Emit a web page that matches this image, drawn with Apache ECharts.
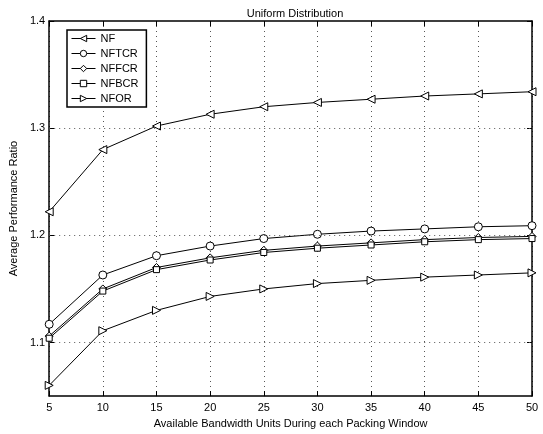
<!DOCTYPE html>
<html>
<head>
<meta charset="utf-8">
<script src="https://cdn.jsdelivr.net/npm/echarts@6/dist/echarts.min.js"></script>
<style>
html, body { margin: 0; padding: 0; background: #fff; }
#chart { width: 543px; height: 434px; }
</style>
</head>
<body>
<div id="chart"></div>
<script>
// 横坐标：每个打包窗口可用带宽单位
var bandwidth = [5, 10, 15, 20, 25, 30, 35, 40, 45, 50];
// 各算法的平均性能比
var nf = [1.222, 1.280, 1.302, 1.313, 1.320, 1.324, 1.327, 1.330, 1.332, 1.334];
var nftcr = [1.117, 1.163, 1.181, 1.190, 1.197, 1.201, 1.204, 1.206, 1.208, 1.209];
var nffcr = [1.106, 1.150, 1.170, 1.179, 1.186, 1.190, 1.193, 1.196, 1.198, 1.199];
var nfbcr = [1.104, 1.148, 1.168, 1.177, 1.184, 1.188, 1.191, 1.194, 1.196, 1.197];
var nfor = [1.060, 1.111, 1.130, 1.143, 1.150, 1.155, 1.158, 1.161, 1.163, 1.165];

var font = 'Liberation Sans, Arial, sans-serif';

function pairs(ys) {
	var out = [];
	for (var i = 0; i < bandwidth.length; i++) {
		out.push([bandwidth[i], ys[i]]);
	}
	return out;
}

function line(name, ys, symbol, size, rotate) {
	return {
		name: name,
		type: 'line',
		data: pairs(ys),
		symbol: symbol,
		symbolSize: size,
		symbolRotate: rotate || 0,
		showAllSymbol: true,
		lineStyle: { color: '#000', width: 1 },
		itemStyle: { color: '#fff', borderColor: '#000', borderWidth: 1 },
		animation: false
	};
}

var chart = echarts.init(document.getElementById('chart'));
var axisCommon = {
	axisLine: { show: true, onZero: false, lineStyle: { color: '#000', width: 1.5 } },
	axisTick: { show: true, inside: true, length: 5, lineStyle: { color: '#000' } }
};
chart.setOption({
	backgroundColor: '#fff',
	title: {
		text: 'Uniform Distribution',
		left: 290,
		top: 3,
		textAlign: 'center',
		textStyle: { fontFamily: font, fontSize: 11, fontWeight: 'normal', color: '#000' }
	},
	legend: {
		orient: 'vertical',
		left: 67,
		top: 30,
		itemWidth: 24,
		itemHeight: 8,
		itemGap: 4,
		padding: [3, 8, 3, 4],
		borderColor: '#000',
		borderWidth: 1.5,
		backgroundColor: '#fff',
		lineStyle: { width: 1, color: '#000' },
		itemStyle: { color: '#fff', borderColor: '#000', borderWidth: 1 },
		textStyle: { fontFamily: font, fontSize: 11, color: '#000' },
		data: ['NF', 'NFTCR', 'NFFCR', 'NFBCR', 'NFOR']
	},
	grid: { left: 49, right: 11, top: 21, bottom: 34 },
	xAxis: [Object.assign({
		type: 'value',
		min: 5,
		max: 50,
		interval: 5,
		name: 'Available Bandwidth Units During each Packing Window',
		nameLocation: 'middle',
		nameGap: 17,
		nameTextStyle: { fontFamily: font, fontSize: 11, color: '#000' },
		axisLabel: { fontFamily: font, fontSize: 11, color: '#000', margin: 6 },
		splitLine: { show: true, lineStyle: { color: '#555', type: [1, 4], width: 1 } }
	}, axisCommon), Object.assign({
		type: 'value',
		position: 'top',
		min: 5,
		max: 50,
		interval: 5,
		axisLabel: { show: false },
		splitLine: { show: false }
	}, axisCommon)],
	yAxis: [Object.assign({
		type: 'value',
		min: 1.05,
		max: 1.4,
		interval: 0.1,
		name: 'Average Performance Ratio',
		nameLocation: 'middle',
		nameGap: 30,
		nameTextStyle: { fontFamily: font, fontSize: 11, color: '#000' },
		axisLabel: {
			fontFamily: font, fontSize: 11, color: '#000', margin: 4,
			customValues: [1.1, 1.2, 1.3, 1.4],
			formatter: function(v) { return v.toFixed(1); }
		},
		axisTick: { show: true, inside: true, length: 5, customValues: [1.1, 1.2, 1.3, 1.4], lineStyle: { color: '#000' } },
		splitLine: { show: false }
	}, { axisLine: axisCommon.axisLine }), Object.assign({
		type: 'value',
		position: 'right',
		min: 1.05,
		max: 1.4,
		axisLabel: { show: false },
		axisTick: { show: true, inside: true, length: 5, customValues: [1.1, 1.2, 1.3, 1.4], lineStyle: { color: '#000' } },
		splitLine: { show: false }
	}, { axisLine: axisCommon.axisLine })],
	series: [
		line('NF', nf, 'triangle', 8, 90),
		line('NFTCR', nftcr, 'circle', 8),
		line('NFFCR', nffcr, 'diamond', 8),
		line('NFBCR', nfbcr, 'rect', 6),
		line('NFOR', nfor, 'triangle', 8, -90),
		// 水平网格线（1.1, 1.2, 1.3）
		{
			type: 'line',
			data: [],
			silent: true,
			markLine: {
				silent: true,
				symbol: 'none',
				label: { show: false },
				lineStyle: { color: '#555', type: [1, 4], width: 1 },
				data: [{ yAxis: 1.1 }, { yAxis: 1.2 }, { yAxis: 1.3 }]
			},
			animation: false
		}
	]
});
</script>
</body>
</html>
